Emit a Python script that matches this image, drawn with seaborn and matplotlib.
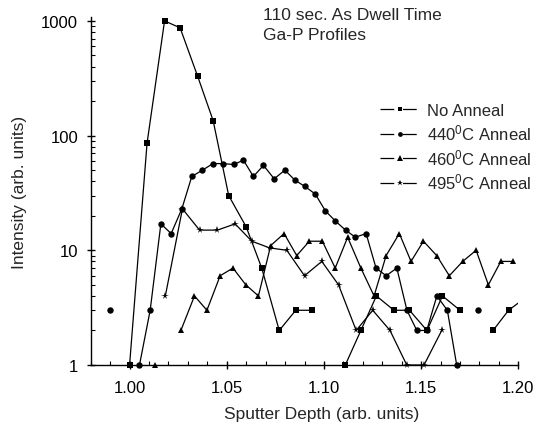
import numpy as np
import pandas as pd
import seaborn as sns
import matplotlib
matplotlib.use("Agg")
import matplotlib.pyplot as plt
from matplotlib.lines import Line2D
from matplotlib.patches import Rectangle
from matplotlib.ticker import FixedLocator, MultipleLocator, LogLocator, NullFormatter, FixedFormatter

# ---------------- data (None = zero count, not drawn on log axis) ----------------
noanneal_x = [1.000, 1.009, 1.018, 1.026, 1.035, 1.043, 1.051, 1.060, 1.068, 1.077,
              1.0855, 1.094, 1.1025, 1.111, 1.119, 1.127, 1.136, 1.144, 1.153, 1.161,
              1.170, 1.178, 1.187, 1.195, 1.204]
noanneal_y = [1, 86, 1000, 870, 330, 135, 30, 16, 7, 2,
              3, 3, None, 1, 2, 4, 3, 3, 2, 4,
              3, None, 2, 3, 3.9]

a440_x = [0.9897, 0.995, 1.000, 1.0051, 1.0106, 1.0161, 1.0214, 1.0269, 1.032, 1.0375,
          1.0429, 1.048, 1.0535, 1.0586, 1.0637, 1.0689, 1.0744, 1.0799, 1.085, 1.0902,
          1.0955, 1.1008, 1.1059, 1.1111, 1.1162, 1.1217, 1.1268, 1.132, 1.1375, 1.1427,
          1.1478, 1.1529, 1.1581, 1.1635, 1.1683, 1.1735, 1.1794]
a440_y = [3, None, None, 1, 3, 17, 14, 23, 44, 50,
          57, 57, 56, 61, 44, 55, 42, 50, 41, 36,
          31, 22, 18, 15, 13, 14, 7, 6, 7, 3,
          2, 2, 4, 3, 1, None, 3]

a460_x = [1.0132, 1.0198, 1.0264, 1.0334, 1.0398, 1.0466, 1.0532, 1.0598, 1.0663, 1.0726,
          1.0795, 1.086, 1.0925, 1.0992, 1.1058, 1.1122, 1.119, 1.1258, 1.132, 1.1388,
          1.1448, 1.1512, 1.158, 1.1645, 1.1714, 1.1783, 1.1846, 1.191, 1.1974]
a460_y = [1, None, 2, 4, 3, 6, 7, 5, 4, 11,
          14, 9, 12, 12, 7, 13, 7, 4, 9, 14,
          8, 12, 9, 6, 8, 10, 5, 8, 8]

a495_x = [1.0184, 1.0272, 1.036, 1.0452, 1.0543, 1.0629, 1.072, 1.0809, 1.090, 1.0989,
          1.1075, 1.1166, 1.1251, 1.134, 1.1426, 1.1515, 1.1606]
a495_y = [4, 23, 15, 15, 17, 12, 10.5, 10, 6, 8,
          5, 2, 3, 2, 1, 1, 2]

series_names = ["No Anneal", "440$^\\mathregular{0}$C Anneal",
                "460$^\\mathregular{0}$C Anneal", "495$^\\mathregular{0}$C Anneal"]
series_x = [noanneal_x, a440_x, a460_x, a495_x]
series_y = [noanneal_y, a440_y, a460_y, a495_y]
series_markers = ["s", "o", "^", "*"]
series_msize = [4.2, 4.6, 5.0, 5.5]

x_ticks = [1.00, 1.05, 1.10, 1.15, 1.20]
x_ticklabels = ["1.00", "1.05", "1.10", "1.15", "1.20"]
y_ticks = [1, 10, 100, 1000]
y_ticklabels = ["1", "10", "100", "1000"]

# ---------------- style ----------------
sns.set_style("ticks")
plt.rcParams["font.family"] = ["Liberation Sans", "DejaVu Sans"]
plt.rcParams["mathtext.fontset"] = "custom"
plt.rcParams["mathtext.rm"] = "Liberation Sans"
plt.rcParams["mathtext.it"] = "Liberation Sans:italic"
plt.rcParams["mathtext.bf"] = "Liberation Sans:bold"

W, H = 543, 427
fig = plt.figure(figsize=(W / 100, H / 100), dpi=100)
left_px, right_px, bottom_px, top_px = 90.7, 518.3, 366, 18
ax = fig.add_axes([left_px / W, 1 - bottom_px / H,
                   (right_px - left_px) / W, (bottom_px - top_px) / H])

# build long table with segment ids (break lines at zero counts)
rows = []
for name, xs, ys in zip(series_names, series_x, series_y):
    seg = 0
    for x, y in zip(xs, ys):
        if y is None:
            seg += 1
            continue
        rows.append({"series": name, "depth": x, "intensity": y, "seg": f"{name}-{seg}"})
df = pd.DataFrame(rows)

clip = Rectangle((0, -0.1), 1, 1.2, transform=ax.transAxes, facecolor="none", edgecolor="none")
ax.add_patch(clip)

for name, mk, ms in zip(series_names, series_markers, series_msize):
    sub = df[df["series"] == name]
    n_before = len(ax.lines)
    sns.lineplot(data=sub, x="depth", y="intensity", units="seg", estimator=None,
                 color="black", marker=mk, markersize=ms, markeredgewidth=0,
                 linewidth=0.9, ax=ax, legend=False, sort=False)
    for ln in ax.lines[n_before:]:
        ln.set_clip_path(clip)

ax.set_yscale("log")
ax.set_xlim(0.98, 1.20)
ax.set_ylim(1, 10 ** ((bottom_px - top_px) / 114.7))

ax.xaxis.set_major_locator(FixedLocator(x_ticks))
ax.xaxis.set_major_formatter(FixedFormatter(x_ticklabels))
ax.xaxis.set_minor_locator(MultipleLocator(0.01))
ax.yaxis.set_major_locator(FixedLocator(y_ticks))
ax.yaxis.set_major_formatter(FixedFormatter(y_ticklabels))
ax.yaxis.set_minor_locator(LogLocator(base=10, subs=np.arange(2, 10)))
ax.yaxis.set_minor_formatter(NullFormatter())

for s in ["top", "right"]:
    ax.spines[s].set_visible(False)
for s in ["left", "bottom"]:
    ax.spines[s].set_linewidth(1.0)
    ax.spines[s].set_color("black")

ax.tick_params(which="major", direction="inout", length=6, width=1, colors="black",
               labelsize=12, pad=6)
ax.tick_params(axis="x", which="major", pad=8)
ax.tick_params(which="minor", direction="in", length=3, width=0.8, colors="black")

ax.set_xlabel("Sputter Depth (arb. units)", fontsize=12.5)
ax.set_ylabel("Intensity (arb. units)", fontsize=12.5)
ax.xaxis.set_label_coords(0.54, -0.118)
ax.yaxis.set_label_coords(-0.15, 0.5)

fig.text(263 / W, 1 - 16 / H, "110 sec. As Dwell Time", fontsize=12.5, ha="left", va="center")
fig.text(263 / W, 1 - 36 / H, "Ga-P Profiles", fontsize=12.5, ha="left", va="center")

handles = [Line2D([0], [0], color="black", linewidth=0.9, linestyle=(0, (11, 7, 11)),
                  marker=mk, markersize=ms * 0.75, markeredgewidth=0)
           for mk, ms in zip(series_markers, series_msize)]
fig.legend(handles=handles, labels=series_names, loc="upper left",
           bbox_to_anchor=(380 / W, 1 - 104 / H), bbox_transform=fig.transFigure,
           frameon=False, fontsize=12, handlelength=2.4, handletextpad=0.4,
           labelspacing=0.28, borderpad=0, borderaxespad=0)

fig.savefig("out.png", dpi=100)
